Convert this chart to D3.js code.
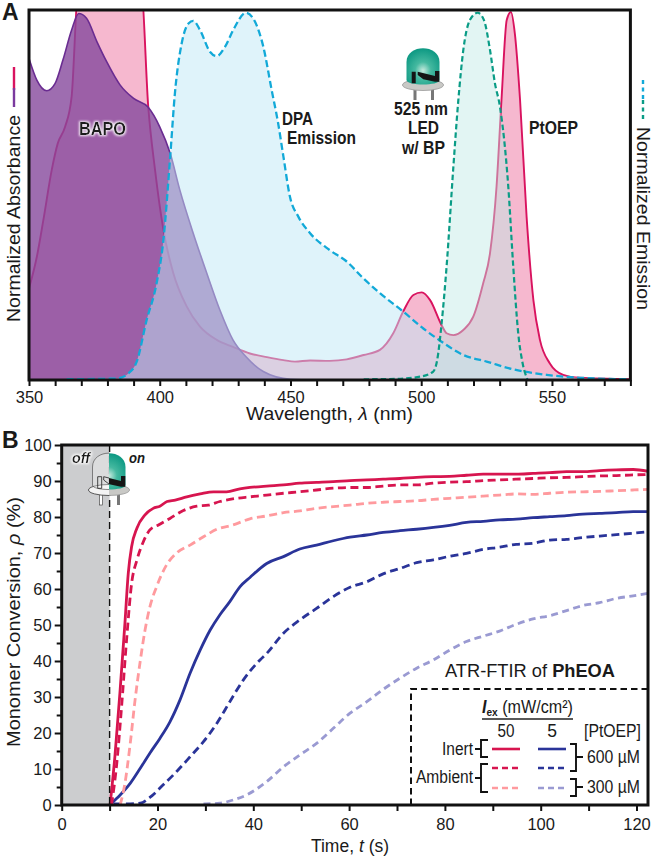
<!DOCTYPE html>
<html><head><meta charset="utf-8">
<style>html,body{margin:0;padding:0;background:#fff}svg{display:block}
text{font-family:"Liberation Sans",Arial,sans-serif;fill:#1a1a1a}</style>
<script src="https://cdn.jsdelivr.net/npm/d3@7"></script></head><body>
<script>
// Panel A spectra: [wavelength nm, normalized value]
const bapo=[[350,.874],[353,.815],[356.8,.786],[360,.806],[363,.87],[366.3,.951],[369,.996],[372,.983],[376,.919],[379.7,.865],[384.8,.802],[390,.765],[395.6,.741],[400,.688],[404,.616],[407.7,.516],[412.8,.399],[418,.29],[423,.19],[428,.109],[433,.063],[439.6,.023],[450,.002],[460,0]];
const ptoep=[[350,.249],[353,.335],[355.5,.435],[358.7,.571],[361,.643],[363.8,.688],[366.3,.77],[368.8,1.05],[393,1.05],[395.6,.743],[398.2,.571],[401.4,.408],[405.2,.29],[410.3,.2],[415.4,.145],[421.8,.109],[428,.09],[434.5,.072],[441,.062],[447.3,.054],[451.7,.05],[457.5,.053],[465,.052],[471.5,.056],[478,.068],[484.2,.082],[489.3,.127],[493.1,.186],[497,.231],[500.2,.238],[503.4,.217],[507.8,.149],[509.7,.127],[512.3,.122],[516.1,.136],[519.9,.172],[523.7,.263],[526.3,.344],[528.8,.525],[530.7,.761],[532.7,.978],[534.3,1],[535.8,.942],[537.8,.761],[540.3,.444],[542.9,.217],[545.4,.109],[549.2,.045],[554.3,.014],[560.7,.006],[580,.002]];
const dpa=[[364.4,.002],[383.5,.004],[388,.018],[391.2,.05],[395,.163],[398.8,.263],[401.4,.38],[404,.607],[405.8,.779],[408.4,.915],[411,.969],[412.8,.976],[415.4,.951],[419.2,.892],[421.8,.88],[425,.906],[428.1,.951],[433,.998],[436.4,.974],[439.6,.906],[442.8,.788],[445.3,.697],[447.3,.607],[449.8,.498],[453,.444],[457.5,.399],[465,.353],[471.5,.322],[477.9,.276],[484.2,.236],[493.1,.186],[500.8,.14],[507.8,.104],[516.1,.068],[525,.05],[535.2,.029],[548,.014],[560.7,.006],[580,.002]];
const led=[[478,.002],[490.6,.003],[499.5,.009],[504.6,.023],[506.1,.054],[507.8,.154],[509.7,.308],[512.3,.58],[514.2,.761],[516.1,.897],[518.6,.978],[521.6,.998],[524,.978],[526.3,.897],[528.2,.806],[530.1,.743],[533.3,.525],[535.2,.308],[537.1,.127],[538.8,.045],[540.6,.002]];
// Panel B kinetics: [time s, conversion %]
const inert50=[[10.1,0],[11.1,13.4],[12.2,32],[13.2,50.5],[13.9,64.4],[14.6,71.8],[15.7,76.9],[17.4,80.6],[19.1,82.4],[20.5,83],[22,84.3],[23.7,84.7],[26.1,85.6],[28.9,86.4],[31.7,87],[34.4,87],[37.2,87.8],[39.3,88.2],[42.8,88.6],[46.3,88.9],[49.7,89.4],[53.2,89.6],[56.7,89.8],[60.2,90.1],[63.7,90.3],[67.1,90.5],[70.6,90.7],[74.1,91],[77.6,91.2],[81,91.3],[84.5,91.6],[88,91.9],[91.4,91.9],[94.9,91.9],[98.4,92.1],[101.9,92.3],[105.4,92.6],[108.8,92.6],[112.3,92.9],[115.8,93.1],[119.3,93.2],[122.4,92.7]];
const amb50=[[10.4,0],[11.5,11.6],[12.5,27.3],[13.6,46.8],[14.6,61.6],[15.7,68],[17,73],[18.4,76.4],[20.2,77.8],[22.6,79.6],[25.4,81.8],[28.2,83],[30.6,83.3],[33,84.3],[36.5,85.2],[39.3,85.6],[42.8,86.1],[46.3,86.6],[49.7,87],[53.2,87.5],[56.7,88],[60.2,88.2],[63.7,88.2],[67.1,88.6],[70.6,88.9],[74.1,88.9],[77.6,89.4],[81,89.7],[84.5,89.8],[88,90.1],[91.4,90.3],[94.9,90.5],[98.4,90.7],[101.9,90.9],[105.4,91],[108.8,91.2],[112.3,91.4],[115.8,91.5],[119.3,91.7],[122.4,91.8]];
const amb50Low=[[12.2,0],[13.2,6],[14.3,17],[15.3,29],[16.4,40],[17.4,48.6],[18.4,55],[19.8,60.6],[21.9,66.7],[24,70],[26.8,72.2],[29.6,74.5],[32.4,76.6],[35.8,77.8],[39.3,79.5],[42.8,80.3],[46.3,81.2],[49.7,81.7],[53.2,82.4],[56.7,82.9],[60.2,83.3],[63.7,83.8],[67.1,84.1],[70.6,84.3],[74.1,84.5],[77.6,84.9],[81,85.2],[84.5,85.5],[88,85.8],[91.4,86.1],[94.9,86.4],[98.4,86.3],[101.9,86.6],[105.4,86.9],[108.8,87],[112.3,87.1],[115.8,87.3],[119.3,87.5],[122.4,87.7]];
const inert5=[[10.4,.5],[12.2,2.8],[14.3,6],[16.4,10.2],[18.4,14.4],[20.5,18.5],[22.6,23.1],[24.7,29.2],[26.8,36.6],[28.9,43],[31,48.6],[33,52.8],[35.1,56.5],[37.2,60.6],[39.3,63.2],[42.8,67.1],[46.3,69],[49.7,71.1],[53.2,72.2],[56.7,73.4],[60.2,74.4],[63.7,75],[67.1,75.7],[70.6,76.2],[74.1,76.6],[77.6,77.1],[81,77.7],[84.5,78.5],[88,78.8],[91.4,79.2],[94.9,79.4],[98.4,79.8],[101.9,80.1],[105.4,80.4],[108.8,80.8],[112.3,81],[115.8,81.2],[119.3,81.5],[122.4,81.5]];
const amb5=[[10.8,.3],[13.6,.3],[16.4,.5],[18.4,2.1],[21.2,5.6],[24,9.3],[26.8,13.4],[29.6,17.6],[32.4,22.7],[35.1,28.7],[37.9,34.7],[41.4,40.3],[42.8,42.1],[46.3,47.7],[49.7,51.4],[53.2,54.6],[56.7,57.9],[60.2,60.5],[63.7,62],[67.1,64.2],[70.6,65.7],[74.1,67.3],[77.6,68.1],[81,69.1],[84.5,69.9],[88,71],[91.4,71.6],[94.9,72.4],[98.4,72.7],[101.9,73.6],[105.4,73.8],[108.8,74.3],[112.3,74.7],[115.8,75.1],[119.3,75.5],[122.4,75.9]];
const amb5Low=[[29.6,.3],[33,.5],[35.8,1.4],[38.6,2.8],[42.8,6.5],[46.3,10.6],[49.7,13.9],[53.2,17.1],[56.7,21.3],[60.2,25.5],[63.7,28.7],[67.1,32.1],[70.6,35.2],[74.1,38],[77.6,40.3],[81,43],[84.5,45.4],[88,46.9],[91.4,48.3],[94.9,50.2],[98.4,51.7],[101.9,52.6],[105.4,54],[108.8,55.4],[112.3,56.2],[115.8,57.4],[119.3,58.1],[122.4,58.8]];
const xTicksA=d3.range(350,581,10), xLabelsA=[350,400,450,500,550];
const xTicksB=d3.range(0,121,10), xLabelsB=[0,20,40,60,80,100,120];
const yTicksB=d3.range(0,101,5), yLabelsB=d3.range(0,101,10);
const RED="#d7154f",NAVY="#2a3499",PINK="#ff9a9e",LILAC="#9a9ad2";
const kinetics=[
 {d:amb5Low,c:LILAC,dash:"7,4.5"},{d:amb5,c:NAVY,dash:"8,4.5"},{d:inert5,c:NAVY,dash:null},
 {d:amb50Low,c:PINK,dash:"8,4.5"},{d:amb50,c:RED,dash:"8,4.5"},{d:inert50,c:RED,dash:null}];
const legendKeys=[
 {x:492,y:749,c:RED,dash:null},{x:538,y:749,c:NAVY,dash:null},
 {x:492,y:768,c:RED,dash:"6,4"},{x:538,y:768,c:NAVY,dash:"6,4"},
 {x:492,y:788,c:PINK,dash:"6,4"},{x:538,y:788,c:LILAC,dash:"6,4"}];

const svg=d3.select("body").append("svg").attr("width",654).attr("height",859);
const defs=svg.append("defs");
const glow=defs.append("filter").attr("id","glow").attr("x","-20%").attr("y","-40%").attr("width","140%").attr("height","180%");
glow.append("feMorphology").attr("in","SourceAlpha").attr("operator","dilate").attr("radius",1.2).attr("result","d");
glow.append("feGaussianBlur").attr("in","d").attr("stdDeviation",1.1).attr("result","b");
glow.append("feFlood").attr("flood-color","#fff").attr("flood-opacity",.9).attr("result","f");
glow.append("feComposite").attr("in","f").attr("in2","b").attr("operator","in").attr("result","g");
const gm=glow.append("feMerge");gm.append("feMergeNode").attr("in","g");gm.append("feMergeNode").attr("in","SourceGraphic");
defs.append("clipPath").attr("id","clipA").append("rect").attr("x",29).attr("y",10).attr("width",601).attr("height",370);
defs.append("clipPath").attr("id","clipB").append("rect").attr("x",62).attr("y",445).attr("width",586).attr("height",360);
defs.append("clipPath").attr("id","halfR").append("rect").attr("x",0).attr("y",-5).attr("width",30).attr("height",70);
defs.append("clipPath").attr("id","halfL").append("rect").attr("x",-30).attr("y",-5).attr("width",30).attr("height",70);
const rg=defs.append("radialGradient").attr("id","dome").attr("cx",.5).attr("cy",.62).attr("r",.6);
rg.append("stop").attr("offset",0).attr("stop-color","#c8ebdf");
rg.append("stop").attr("offset",.4).attr("stop-color","#45b9a0");
rg.append("stop").attr("offset",1).attr("stop-color","#0f9a84");

function txt(g,x,y,s,o={}){const t=g.append("text").attr("x",x).attr("y",y).attr("font-size",o.size||16)
 .attr("text-anchor",o.anchor||"start").text(s);
 if(o.bold)t.attr("font-weight","bold"); if(o.italic)t.attr("font-style","italic");
 if(o.len)t.attr("textLength",o.len).attr("lengthAdjust","spacingAndGlyphs");
 if(o.filter)t.attr("filter",o.filter);
 if(o.rot!==undefined)t.attr("transform",`rotate(${o.rot} ${x} ${y})`);return t;}

// ---------- Panel A
const xA=d3.scaleLinear().domain([350,580]).range([29,630.4]);
const yA=d3.scaleLinear().domain([0,1]).range([380,12]);
const areaA=d3.area().x(d=>xA(d[0])).y0(yA(0)).y1(d=>yA(d[1])).curve(d3.curveMonotoneX);
const lineA=d3.line().x(d=>xA(d[0])).y(d=>yA(d[1])).curve(d3.curveMonotoneX);
const pa=svg.append("g").attr("clip-path","url(#clipA)");
pa.append("path").attr("d",areaA(ptoep)).attr("fill","#f6b8cf");
pa.append("path").attr("d",lineA(ptoep)).attr("fill","none").attr("stroke","#d9135f").attr("stroke-width",1.9);
pa.append("path").attr("d",areaA(bapo)).attr("fill","rgb(134,72,156)").attr("fill-opacity",.8);
pa.append("path").attr("d",lineA(bapo)).attr("fill","none").attr("stroke","#6a2c91").attr("stroke-width",1.6);
pa.append("path").attr("d",areaA(dpa)).attr("fill","rgb(191,231,245)").attr("fill-opacity",.5);
pa.append("path").attr("d",areaA(led)).attr("fill","rgb(190,232,228)").attr("fill-opacity",.45);
pa.append("path").attr("d",lineA(dpa)).attr("fill","none").attr("stroke","#12a9d8").attr("stroke-width",2.3).attr("stroke-dasharray","7,3.5");
pa.append("path").attr("d",lineA(led)).attr("fill","none").attr("stroke","#0a9c86").attr("stroke-width",2.2).attr("stroke-dasharray","5.5,3");

function frame(x0,x1,y0,y1){svg.append("rect").attr("x",x0).attr("y",y0).attr("width",x1-x0).attr("height",y1-y0)
 .attr("fill","none").attr("stroke","#111").attr("stroke-width",3);}
frame(29,630.4,10,380);
function styleAxis(g){g.select(".domain").remove();g.selectAll("line").attr("stroke","#111").attr("stroke-width",2);
 g.selectAll("text").attr("font-size",16.5).attr("fill","#1a1a1a").style("font-family",'"Liberation Sans"');}
svg.append("g").attr("transform","translate(0,380)")
 .call(d3.axisBottom(xA).tickValues(xTicksA).tickSize(6).tickPadding(5).tickFormat(d=>xLabelsA.includes(d)?d:""))
 .call(styleAxis);

txt(svg,2,20,"A",{size:23,bold:true});
txt(svg,20,322,"Normalized Absorbance",{size:18,rot:-90,len:207});
svg.append("line").attr("x1",14).attr("x2",14).attr("y1",67).attr("y2",90).attr("stroke","#d9135f").attr("stroke-width",2.4);
svg.append("line").attr("x1",14).attr("x2",14).attr("y1",88).attr("y2",107).attr("stroke","#7b3a9e").attr("stroke-width",2.4);
txt(svg,637,127,"Normalized Emission",{size:18,rot:90,len:183});
svg.append("line").attr("x1",643).attr("x2",643).attr("y1",80).attr("y2",100).attr("stroke","#12a9d8").attr("stroke-width",2.4).attr("stroke-dasharray","4,3.5");
svg.append("line").attr("x1",643).attr("x2",643).attr("y1",100).attr("y2",120).attr("stroke","#0a9c86").attr("stroke-width",2.4).attr("stroke-dasharray","4,3.5");
txt(svg,79,135,"BAPO",{size:18,bold:true,len:47,filter:"url(#glow)"});
txt(svg,282,125,"DPA",{size:18,bold:true,len:31});
txt(svg,287,144,"Emission",{size:18,bold:true,len:69});
txt(svg,394,115,"525 nm",{size:18,bold:true,len:54});
txt(svg,408,134,"LED",{size:18,bold:true,len:31});
txt(svg,402,154,"w/ BP",{size:18,bold:true,len:43});
txt(svg,529,134,"PtOEP",{size:18,bold:true,len:49});
const wl=txt(svg,246,420,"",{size:18.5,len:167});
wl.append("tspan").text("Wavelength, ");wl.append("tspan").attr("font-style","italic").text("λ");wl.append("tspan").text(" (nm)");

// LED icon in local coordinates: origin at dome top centre
function ledIcon(g,outlineOnly){
 const legFill=outlineOnly?"#fff":"#777",legStroke=outlineOnly?"#333":"none";
 g.append("rect").attr("x",-9.5).attr("y",38).attr("width",3).attr("height",14).attr("fill",legFill).attr("stroke",legStroke).attr("stroke-width",.6);
 g.append("rect").attr("x",8).attr("y",38).attr("width",3).attr("height",14).attr("fill",legFill).attr("stroke",legStroke).attr("stroke-width",.6);
 g.append("ellipse").attr("cx",0).attr("cy",37).attr("rx",20.5).attr("ry",5.5).attr("fill",outlineOnly?"#f4f4f4":"#c9c9c6").attr("stroke",outlineOnly?"#333":"#999").attr("stroke-width",.8);
 g.append("path").attr("d","M-16.5,32V14C-16.5,-4.5 16.5,-4.5 16.5,14V32C16.5,38 -16.5,38 -16.5,32Z")
  .attr("fill",outlineOnly?"#fff":"url(#dome)").attr("fill-opacity",outlineOnly?.3:1).attr("stroke",outlineOnly?"#555":"none").attr("stroke-width",.7);
 const dark=g.append("path").attr("d","M-11.3,35.3V23.7H-7.3V35.3ZM-5.3,23.7L12,28V33.7L0.3,31.3L-5.3,27ZM12,23H16.3V33.7H12Z");
 if(outlineOnly)dark.attr("fill","none").attr("stroke","#333").attr("stroke-width",.9);else dark.attr("fill","#151515");
}
ledIcon(svg.append("g").attr("transform","translate(423,48)"),false);

// ---------- Panel B
const xB=d3.scaleLinear().domain([0,120]).range([61.7,636.5]);
const yB=d3.scaleLinear().domain([0,100]).range([805,445]);
svg.append("rect").attr("x",xB(0)).attr("y",yB(100)).attr("width",xB(10)-xB(0)).attr("height",yB(0)-yB(100)).attr("fill","#cccdcf");
const lineB=d3.line().x(d=>xB(d[0])).y(d=>yB(d[1])).curve(d3.curveMonotoneX);
const pb=svg.append("g").attr("clip-path","url(#clipB)");
pb.selectAll("path").data(kinetics).join("path").attr("d",d=>lineB(d.d)).attr("fill","none")
 .attr("stroke",d=>d.c).attr("stroke-width",2.8).attr("stroke-dasharray",d=>d.dash);
svg.append("line").attr("x1",xB(10)).attr("x2",xB(10)).attr("y1",yB(100)).attr("y2",yB(0)).attr("stroke","#111").attr("stroke-width",1.4).attr("stroke-dasharray","7,4");
frame(61.7,648,445,805);
svg.append("g").attr("transform","translate(0,805)")
 .call(d3.axisBottom(xB).tickValues(xTicksB).tickSize(6).tickPadding(7).tickFormat(d=>xLabelsB.includes(d)?d:""))
 .call(styleAxis);
const ay=svg.append("g").attr("transform","translate(61.7,0)")
 .call(d3.axisLeft(yB).tickValues(yTicksB).tickSize(5).tickPadding(4).tickFormat(d=>yLabelsB.includes(d)?d:""))
 .call(styleAxis);
ay.selectAll(".tick").filter(d=>d%10===0).select("line").attr("x2",-7);
ay.selectAll("text").attr("x",-10);

txt(svg,2,448,"B",{size:23,bold:true});
const yl=txt(svg,20,747,"",{size:18,rot:-90,len:250});
yl.append("tspan").text("Monomer Conversion, ");yl.append("tspan").attr("font-style","italic").text("ρ");yl.append("tspan").text(" (%)");
const tl=txt(svg,350,852,"",{size:17.5,anchor:"middle"});
tl.append("tspan").text("Time, ");tl.append("tspan").attr("font-style","italic").text("t");tl.append("tspan").text(" (s)");
txt(svg,72,463,"off",{size:15.5,bold:true,italic:true,len:18,filter:"url(#glow)"});
txt(svg,129,463,"on",{size:15.5,bold:true,italic:true,len:16});
const li=svg.append("g").attr("transform","translate(109,453)");
ledIcon(li.append("g").attr("clip-path","url(#halfL)"),true);
ledIcon(li.append("g").attr("clip-path","url(#halfR)"),false);

// Legend
const lg=svg.append("g");
const tt=txt(lg,445,677,"",{size:17.5,len:170});
tt.append("tspan").text("ATR-FTIR of ");tt.append("tspan").attr("font-weight","bold").text("PhEOA");
lg.append("path").attr("d","M411,805V689H647").attr("fill","none").attr("stroke","#111").attr("stroke-width",2).attr("stroke-dasharray","6.5,4");
const ie=txt(lg,482,713,"",{size:17.5,len:91});
ie.append("tspan").attr("font-weight","bold").attr("font-style","italic").text("I");
ie.append("tspan").attr("font-weight","bold").attr("font-size",11).attr("dy",3).text("ex");
ie.append("tspan").attr("dy",-3).text(" (mW/cm²)");
lg.append("line").attr("x1",482).attr("x2",573).attr("y1",719).attr("y2",719).attr("stroke","#222").attr("stroke-width",1.3);
txt(lg,497.5,737,"50",{size:17.5,len:17});
txt(lg,552,737,"5",{size:17.5,anchor:"middle"});
txt(lg,584,737,"[PtOEP]",{size:17.5,len:57});
txt(lg,442,755,"Inert",{size:18,len:31});
txt(lg,416,783,"Ambient",{size:18,len:57});
txt(lg,587,763,"600 µM",{size:17.5,len:53});
txt(lg,587,793,"300 µM",{size:17.5,len:53});
lg.selectAll("line.key").data(legendKeys).join("line").attr("class","key")
 .attr("x1",d=>d.x).attr("x2",d=>d.x+28).attr("y1",d=>d.y).attr("y2",d=>d.y)
 .attr("stroke",d=>d.c).attr("stroke-width",2.6).attr("stroke-dasharray",d=>d.dash);
const br=lg.append("g").attr("fill","none").attr("stroke","#111").attr("stroke-width",1.9);
br.append("path").attr("d","M488,740H481V757H488M481,749H475");
br.append("path").attr("d","M488,764H481V792H488M481,778H475");
br.append("path").attr("d","M570,744H576V771H570M576,757H583");
br.append("path").attr("d","M570,779H576V796H570M576,787H583");
</script></body></html>
